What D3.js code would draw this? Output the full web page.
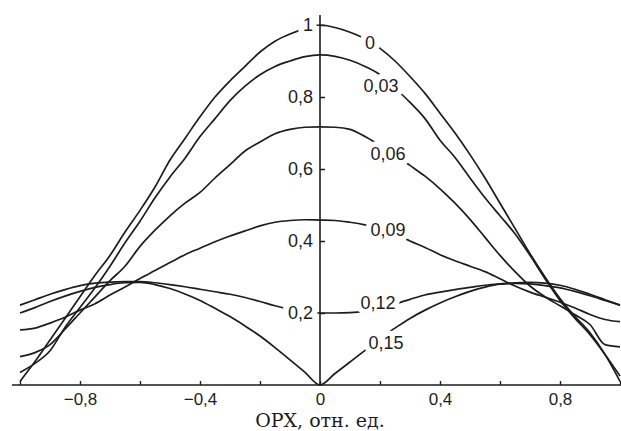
<!DOCTYPE html>
<html>
<head>
<meta charset="utf-8">
<script src="https://cdn.jsdelivr.net/npm/d3@7"></script>
<style>
  html, body { margin: 0; padding: 0; background: #fff; }
  svg { display: block; }
</style>
</head>
<body>
<svg id="chart" width="621" height="431"></svg>
<script>
// ---- data ----
const xValues = [-1, -0.95, -0.9, -0.85, -0.8, -0.75, -0.7, -0.65, -0.6, -0.55, -0.5, -0.45, -0.4, -0.35, -0.3, -0.25, -0.2, -0.15, -0.1, -0.05,
  0, 0.05, 0.1, 0.15, 0.2, 0.25, 0.3, 0.35, 0.4, 0.45, 0.5, 0.55, 0.6, 0.65, 0.7, 0.75, 0.8, 0.85, 0.9, 0.95, 1];

const seriesNames = ["0", "0,03", "0,06", "0,09", "0,12", "0,15"];

const curve000 = [0.01, 0.065, 0.125, 0.185, 0.245, 0.305, 0.36, 0.425, 0.485, 0.55, 0.625, 0.685, 0.745, 0.80, 0.845, 0.885, 0.925, 0.955, 0.975, 0.99,
  1.0, 0.993, 0.98, 0.962, 0.935, 0.9, 0.857, 0.81, 0.755, 0.70, 0.64, 0.575, 0.505, 0.435, 0.365, 0.30, 0.24, 0.19, 0.145, 0.085, 0.01];
const curve003 = [0.035, 0.06, 0.095, 0.16, 0.215, 0.27, 0.33, 0.395, 0.455, 0.52, 0.578, 0.63, 0.69, 0.74, 0.79, 0.83, 0.862, 0.885, 0.9, 0.912,
  0.917, 0.913, 0.902, 0.885, 0.862, 0.825, 0.785, 0.74, 0.68, 0.632, 0.575, 0.52, 0.47, 0.42, 0.36, 0.295, 0.235, 0.185, 0.14, 0.085, 0.025];
const curve006 = [0.079, 0.09, 0.112, 0.155, 0.2, 0.245, 0.29, 0.33, 0.385, 0.43, 0.47, 0.505, 0.535, 0.575, 0.612, 0.65, 0.675, 0.698, 0.71, 0.716,
  0.717, 0.716, 0.71, 0.69, 0.665, 0.64, 0.61, 0.58, 0.545, 0.505, 0.46, 0.41, 0.36, 0.315, 0.275, 0.245, 0.22, 0.195, 0.168, 0.112, 0.106];
const curve009 = [0.153, 0.158, 0.172, 0.188, 0.208, 0.226, 0.25, 0.272, 0.296, 0.318, 0.34, 0.362, 0.38, 0.398, 0.414, 0.428, 0.442, 0.452, 0.457, 0.459,
  0.458, 0.457, 0.452, 0.445, 0.435, 0.42, 0.4, 0.382, 0.362, 0.345, 0.33, 0.315, 0.295, 0.275, 0.258, 0.244, 0.23, 0.214, 0.196, 0.182, 0.176];
const curve012 = [0.222, 0.237, 0.252, 0.265, 0.276, 0.283, 0.286, 0.287, 0.287, 0.284, 0.279, 0.273, 0.266, 0.259, 0.252, 0.243, 0.232, 0.22, 0.21, 0.203,
  0.2, 0.2, 0.201, 0.205, 0.213, 0.225, 0.238, 0.25, 0.258, 0.265, 0.271, 0.277, 0.281, 0.284, 0.285, 0.283, 0.277, 0.266, 0.252, 0.237, 0.222];
const curve015 = [0.2, 0.215, 0.232, 0.247, 0.26, 0.271, 0.279, 0.284, 0.285, 0.279, 0.268, 0.253, 0.235, 0.213, 0.19, 0.164, 0.136, 0.104, 0.07, 0.035,
  0, 0.032, 0.064, 0.096, 0.13, 0.158, 0.185, 0.208, 0.228, 0.245, 0.26, 0.272, 0.28, 0.282, 0.281, 0.276, 0.27, 0.26, 0.248, 0.235, 0.222];

// label anchor positions (data units) for curve names
const labelX = [0.167, 0.203, 0.227, 0.227, 0.193, 0.22];
const labelY = [0.95, 0.833, 0.644, 0.431, 0.228, 0.119];

const xTickValues = [-1, -0.8, -0.6, -0.4, -0.2, 0, 0.2, 0.4, 0.6, 0.8, 1];
const xLabelValues = [-0.8, -0.4, 0, 0.4, 0.8];
const yTickValues = [0.2, 0.4, 0.6, 0.8, 1];
const xTitle = "ОРХ, отн. ед.";

// ---- drawing ----
const svg = d3.select("#chart");
const ink = "#1d1d1d";
const x = d3.scaleLinear().domain([-1, 1]).range([20, 620]);
const y = d3.scaleLinear().domain([0, 1]).range([385, 25]);

const loc = d3.formatLocale({decimal: ",", thousands: " ", grouping: [3], currency: ["", ""], minus: "\u2212"});
const fmt = loc.format(".1~f");

const allSeries = [curve000, curve003, curve006, curve009, curve012, curve015];

const line = d3.line().x((d, i) => x(xValues[i])).y(d => y(d)).curve(d3.curveMonotoneX);

svg.append("g").selectAll("path").data(allSeries).join("path")
  .attr("d", d => line(d))
  .attr("fill", "none")
  .attr("stroke", ink)
  .attr("stroke-width", 1.7)
  .attr("stroke-linejoin", "round");

// curve labels with white halo
svg.append("g").selectAll("text").data(seriesNames).join("text")
  .attr("x", (d, i) => x(labelX[i]))
  .attr("y", (d, i) => y(labelY[i]))
  .attr("dy", "0.36em")
  .attr("text-anchor", "middle")
  .attr("font-family", "'Liberation Sans', Arial, sans-serif")
  .attr("font-size", 18)
  .attr("fill", ink)
  .attr("stroke", "#fff")
  .attr("stroke-width", 11)
  .attr("stroke-linejoin", "round")
  .attr("paint-order", "stroke")
  .text(d => d);

// y tick labels with halo (axisLeft, ticks drawn to the right)
const yAxis = d3.axisLeft(y).tickValues(yTickValues).tickSizeInner(-5).tickSizeOuter(0).tickPadding(7).tickFormat(fmt);
const gy = svg.append("g").attr("transform", `translate(${x(0)},0)`).call(yAxis);
gy.select(".domain").remove();
gy.selectAll(".tick text")
  .attr("font-family", "'Liberation Sans', Arial, sans-serif")
  .attr("font-size", 18)
  .attr("fill", ink)
  .attr("stroke", "#fff")
  .attr("stroke-width", 12)
  .attr("stroke-linejoin", "round")
  .attr("paint-order", "stroke");
gy.selectAll(".tick line").attr("stroke", ink).attr("stroke-width", 1.5);
gy.selectAll(".tick line").each(function() { this.parentNode.appendChild(this); });

// y axis line
svg.append("line")
  .attr("x1", x(0)).attr("x2", x(0))
  .attr("y1", y(0)).attr("y2", y(1.028))
  .attr("stroke", ink).attr("stroke-width", 1.6);

// x axis: ticks (upward) every 0.2
const gxT = svg.append("g").attr("transform", `translate(0,${y(0)})`)
  .call(d3.axisBottom(x).tickValues(xTickValues).tickSizeInner(-4).tickSizeOuter(0).tickFormat(""));
gxT.select(".domain").remove();
gxT.selectAll(".tick line").attr("stroke", ink).attr("stroke-width", 1.4);

// x axis labels every 0.4
const gxL = svg.append("g").attr("transform", `translate(0,${y(0)})`)
  .call(d3.axisBottom(x).tickValues(xLabelValues).tickSize(0).tickPadding(8).tickFormat(fmt));
gxL.select(".domain").remove();
gxL.selectAll(".tick text")
  .attr("font-family", "'Liberation Sans', Arial, sans-serif")
  .attr("font-size", 17)
  .attr("fill", ink);

// x axis line
svg.append("line")
  .attr("x1", x(-1.027)).attr("x2", x(1.004))
  .attr("y1", y(0)).attr("y2", y(0))
  .attr("stroke", ink).attr("stroke-width", 1.6);

// x axis title
svg.append("text")
  .attr("x", x(0))
  .attr("y", 427)
  .attr("text-anchor", "middle")
  .attr("font-family", "'DejaVu Serif', serif")
  .attr("font-size", 19)
  .attr("fill", ink)
  .text(xTitle);
</script>
</body>
</html>
